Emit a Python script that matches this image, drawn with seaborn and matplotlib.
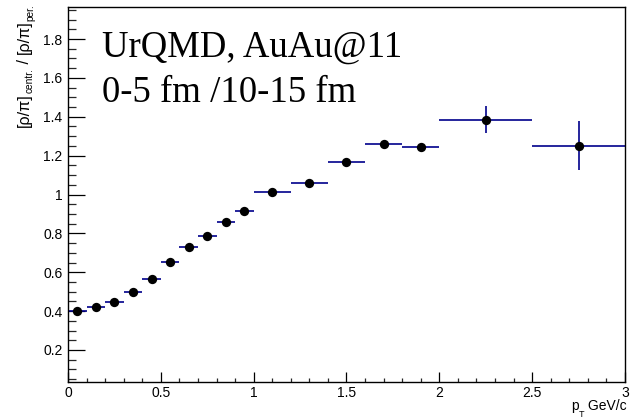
import numpy as np
import pandas as pd
import matplotlib
matplotlib.use("Agg")
import matplotlib.pyplot as plt
import seaborn as sns
from matplotlib.ticker import MultipleLocator, FuncFormatter

# ---- data ----
pt_center = [0.05, 0.15, 0.25, 0.35, 0.45, 0.55, 0.65, 0.75, 0.85, 0.95,
             1.1, 1.3, 1.5, 1.7, 1.9, 2.25, 2.75]
pt_halfwidth = [0.05, 0.05, 0.05, 0.05, 0.05, 0.05, 0.05, 0.05, 0.05, 0.05,
                0.1, 0.1, 0.1, 0.1, 0.1, 0.25, 0.25]
ratio = [0.400, 0.419, 0.445, 0.496, 0.566, 0.655, 0.728, 0.784, 0.856, 0.914,
         1.015, 1.058, 1.165, 1.259, 1.242, 1.386, 1.252]
ratio_err = [0.004, 0.004, 0.004, 0.005, 0.005, 0.006, 0.006, 0.007, 0.008, 0.009,
             0.008, 0.010, 0.012, 0.016, 0.020, 0.068, 0.127]
title_lines = ["UrQMD, AuAu@11", "0-5 fm /10-15 fm"]
x_ticks = [0, 0.5, 1, 1.5, 2, 2.5, 3]
y_ticks = [0.2, 0.4, 0.6, 0.8, 1.0, 1.2, 1.4, 1.6, 1.8]
ylabel_parts = [("[ρ/π]", 0), ("centr.", 1), (" / ", 0), ("[ρ/π]", 0), ("per.", 1)]
xlabel_parts = [("p", 0), ("T", 1), (" GeV/c", 0)]

df = pd.DataFrame({"pt": pt_center, "ratio": ratio})

sns.set_theme(style="white")
plt.rcParams['font.family'] = ['Liberation Sans', 'DejaVu Sans']

W, H = 633, 420
fig = plt.figure(figsize=(W/100, H/100), dpi=100)
ax = fig.add_axes([68/W, 38/H, (625-68)/W, (382-7)/H])

ax.errorbar(pt_center, ratio, xerr=pt_halfwidth, yerr=ratio_err, fmt='none',
            ecolor='#00008b', elinewidth=1.2, capsize=0, zorder=2)
sns.scatterplot(data=df, x="pt", y="ratio", ax=ax, color='black', s=45,
                edgecolor='black', linewidth=0, zorder=3, legend=False)

ax.set_xlim(0, 3)
ax.set_ylim(0.035, 1.965)
ax.set_xlabel("")
ax.set_ylabel("")

ax.xaxis.set_major_locator(plt.FixedLocator(x_ticks))
ax.xaxis.set_minor_locator(MultipleLocator(0.1))
ax.yaxis.set_major_locator(plt.FixedLocator(y_ticks))
ax.yaxis.set_minor_locator(MultipleLocator(0.05))

def fmt(v, pos):
    s = ("%.1f" % v)
    if s.endswith(".0"):
        s = s[:-2]
    return s

ax.xaxis.set_major_formatter(FuncFormatter(fmt))
ax.yaxis.set_major_formatter(FuncFormatter(fmt))

ax.tick_params(axis='y', which='major', direction='in', length=12.2, width=0.9,
               labelsize=10, pad=4, left=True, right=False, colors='black')
ax.tick_params(axis='y', which='minor', direction='in', length=5.8, width=0.9,
               left=True, right=False)
ax.tick_params(axis='x', which='major', direction='in', length=7.2, width=0.9,
               labelsize=10, pad=3, bottom=True, top=False, colors='black')
ax.tick_params(axis='x', which='minor', direction='in', length=3.2, width=0.9,
               bottom=True, top=False)
for sp in ax.spines.values():
    sp.set_visible(True)
    sp.set_color('black')
    sp.set_linewidth(1.0)

fig.text(102/W, 1 - 56.7/H, title_lines[0], fontsize=26.5,
         family=['Liberation Serif'], color='black', ha='left', va='baseline')
fig.text(102/W, 1 - 101.7/H, title_lines[1], fontsize=26.5,
         family=['Liberation Serif'], color='black', ha='left', va='baseline')

renderer = fig.canvas.get_renderer()

# ---- y label: rotated, built from pieces (small subscripts as in ROOT) ----
main_fs, sub_fs = 11.6, 7.3
base_x = 29.0  # baseline x in pixels
ytexts = []
for txt, is_sub in ylabel_parts:
    t = fig.text(0, 0, txt, fontsize=sub_fs if is_sub else main_fs,
                 rotation=90, rotation_mode='anchor', ha='left', va='baseline',
                 color='black')
    ytexts.append((t, is_sub))
lengths = [t.get_window_extent(renderer).height for t, _ in ytexts]
total = sum(lengths)
y_top = 4.0
cur = y_top + total  # pixel from top where text starts (bottom of label)
for (t, is_sub), L in zip(ytexts, lengths):
    bx = base_x + (4.0 if is_sub else 0)
    t.set_position((bx / W, 1 - cur / H))
    cur -= L

# ---- x label built from pieces ----
xtexts = []
for txt, is_sub in xlabel_parts:
    t = fig.text(0, 0, txt, fontsize=6.5 if is_sub else 10, ha='left',
                 va='baseline', color='black')
    xtexts.append((t, is_sub))
widths = [t.get_window_extent(renderer).width for t, _ in xtexts]
right = 626.5
curx = right - sum(widths)
for (t, is_sub), w in zip(xtexts, widths):
    by = 410 + (7 if is_sub else 0)
    t.set_position((curx / W, 1 - by / H))
    curx += w

fig.savefig("out.png", dpi=100)
